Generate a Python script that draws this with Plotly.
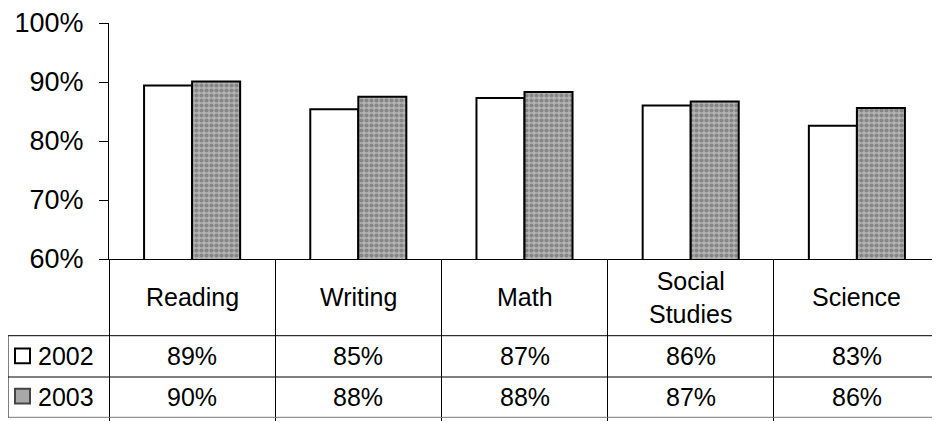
import plotly.graph_objects as go

categories = ["Reading", "Writing", "Math", "Social Studies", "Science"]
header_labels = ["Reading", "Writing", "Math", "Social<br>Studies", "Science"]
series_names = ["2002", "2003"]
values_2002 = [0.894, 0.854, 0.873, 0.860, 0.826]
values_2003 = [0.901, 0.875, 0.883, 0.867, 0.856]
table_2002 = ["89%", "85%", "87%", "86%", "83%"]
table_2003 = ["90%", "88%", "88%", "87%", "86%"]
y_ticks = [0.6, 0.7, 0.8, 0.9, 1.0]

FONT = "Liberation Sans, Arial, sans-serif"
OFF = 8  # page body margin
W, H = 940 - OFF, 421 - OFF
L, R, T, B = 109 - OFF, 0, 19 - OFF, 162
PW = W - L - R
PH = H - T - B

def px_x(px):
    return (px - OFF - L) / PW

def px_y(py):
    return (H - B - (py - OFF)) / PH

fig = go.Figure()
fig.add_trace(go.Bar(
    x=categories, y=values_2002, name=series_names[0],
    marker=dict(color="white", line=dict(color="black", width=2)),
))
fig.add_trace(go.Bar(
    x=categories, y=values_2003, name=series_names[1],
    marker=dict(color="#a0a0a0", line=dict(color="black", width=2),
                pattern=dict(shape=".", bgcolor="#b4b4b4", fgcolor="#585858",
                             size=5, solidity=0.55)),
))

shapes = []
for py, col in [(337, "black"), (379, "black"), (420, "#777777")]:
    shapes.append(dict(type="line", xref="paper", yref="paper",
                       x0=px_x(8), x1=1.0, y0=px_y(py), y1=px_y(py),
                       line=dict(color=col, width=1)))
shapes.append(dict(type="line", xref="paper", yref="paper",
                   x0=px_x(8), x1=px_x(8), y0=px_y(337), y1=px_y(420),
                   line=dict(color="black", width=1)))
shapes.append(dict(type="rect", xref="paper", yref="paper",
                   x0=px_x(15), x1=px_x(30), y0=px_y(365), y1=px_y(350),
                   fillcolor="white", line=dict(color="black", width=2)))
shapes.append(dict(type="rect", xref="paper", yref="paper",
                   x0=px_x(15), x1=px_x(30), y0=px_y(406), y1=px_y(391),
                   fillcolor="#a8a8a8", line=dict(color="#444444", width=2)))

annotations = []
for cat, lab, v2, v3 in zip(categories, header_labels, table_2002, table_2003):
    annotations.append(dict(x=cat, xref="x", y=px_y(298), yref="paper",
                            text=lab, showarrow=False, yanchor="middle",
                            font=dict(family=FONT, size=25, color="black")))
    annotations.append(dict(x=cat, xref="x", y=px_y(358), yref="paper",
                            text=v2, showarrow=False, yanchor="middle",
                            font=dict(family=FONT, size=25, color="black")))
    annotations.append(dict(x=cat, xref="x", y=px_y(399), yref="paper",
                            text=v3, showarrow=False, yanchor="middle",
                            font=dict(family=FONT, size=25, color="black")))
for name, py in zip(series_names, [358, 399]):
    annotations.append(dict(x=px_x(36), xref="paper", y=px_y(py), yref="paper",
                            text=name, showarrow=False, xanchor="left",
                            yanchor="middle",
                            font=dict(family=FONT, size=25, color="black")))

fig.update_layout(
    width=W, height=H,
    margin=dict(l=L, r=R, t=T, b=B, pad=0),
    paper_bgcolor="white", plot_bgcolor="white",
    showlegend=False,
    barmode="group", bargap=0.422, bargroupgap=0,
    font=dict(family=FONT, size=25, color="black"),
    shapes=shapes, annotations=annotations,
)
fig.update_xaxes(
    type="category", showticklabels=False,
    showline=True, linecolor="black", linewidth=1,
    ticks="outside", tickson="boundaries", ticklen=161,
    tickcolor="black", tickwidth=1, showgrid=False, zeroline=False,
)
fig.update_yaxes(
    range=[0.6, 1.0], tickvals=y_ticks, tickformat=".0%",
    showline=True, linecolor="black", linewidth=1,
    ticks="outside", ticklen=9, tickcolor="black", tickwidth=1,
    showgrid=False, zeroline=False, ticklabelstandoff=10,
    ticklabeloverflow="allow",
    tickfont=dict(family=FONT, size=27, color="black"),
)

fig.write_html("out.html")
